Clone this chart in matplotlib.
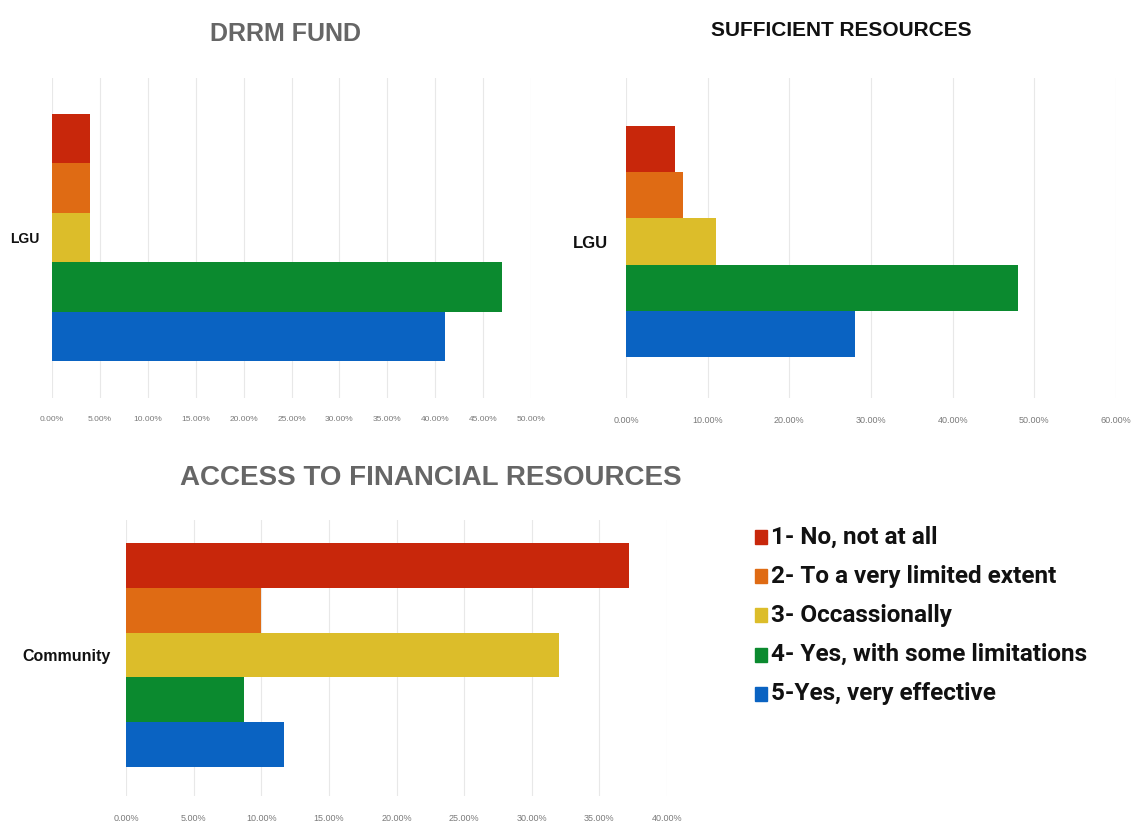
import matplotlib
matplotlib.use("Agg")
import matplotlib.pyplot as plt
from matplotlib.patches import Rectangle
from matplotlib.ticker import FuncFormatter
import numpy as np

# Survey responses (share of respondents, %)
responses = ["1- No, not at all", "2- To a very limited extent", "3- Occassionally",
             "4- Yes, with some limitations", "5-Yes, very effective"]
response_colors = ["#C8270B", "#DF6B14", "#DCBD2A", "#0B8A2F", "#0A63C2"]

drrm_group = ["LGU"]
drrm_fund = [4.0, 4.0, 4.0, 47.0, 41.0]
drrm_ticks = [0, 5, 10, 15, 20, 25, 30, 35, 40, 45, 50]

sufficient_group = ["LGU"]
sufficient_resources = [6.0, 7.0, 11.0, 48.0, 28.0]
sufficient_ticks = [0, 10, 20, 30, 40, 50, 60]

access_group = ["Community"]
access_financial = [37.2, 10.0, 32.0, 8.7, 11.7]
access_ticks = [0, 5, 10, 15, 20, 25, 30, 35, 40]

W, H = 1132, 823
fig = plt.figure(figsize=(W / 100, H / 100), dpi=100)
fig.patch.set_facecolor("white")

SANS = ["Liberation Sans", "DejaVu Sans"]
LEGEND_FONT = ["Roboto", "Liberation Sans", "DejaVu Sans"]


def px_axes(x0, x1, y0, y1):
    """Axes from pixel box (top-left origin)."""
    return fig.add_axes([x0 / W, 1 - y1 / H, (x1 - x0) / W, (y1 - y0) / H])


def grouped_barh(ax, group, values, ticks, bar_top, bar_bot, ax_top, ax_bot,
                 tick_size, label_size, label_pad, tick_pad):
    n = len(values)
    bw = 0.8 / n
    offsets = (np.arange(n) - (n - 1) / 2) * bw
    for i, v in enumerate(values):
        ax.barh(offsets[i], v, height=bw, color=response_colors[i],
                edgecolor="none", zorder=3)
    scale = (bar_bot - bar_top) / 0.8
    ax.set_ylim(0.4 + (ax_bot - bar_bot) / scale, -0.4 - (bar_top - ax_top) / scale)
    ax.set_xlim(ticks[0], ticks[-1])
    ax.set_xticks(ticks)
    ax.xaxis.set_major_formatter(FuncFormatter(lambda v, p: f"{v:.2f}%"))
    ax.set_yticks([0])
    ax.set_yticklabels(group, fontsize=label_size, fontweight="bold",
                       family=SANS, color="#111111")
    for t in ax.get_xticklabels():
        t.set_fontsize(tick_size)
        t.set_color("#7a7a7a")
        t.set_family(SANS)
    ax.tick_params(axis="x", length=0, pad=tick_pad)
    ax.tick_params(axis="y", length=0, pad=label_pad)
    ax.grid(axis="x", color="#e8e8e8", linewidth=0.8, zorder=0)
    for s in ax.spines.values():
        s.set_visible(False)
    ax.set_facecolor("white")


# DRRM FUND
ax1 = px_axes(52, 531, 78, 398)
grouped_barh(ax1, drrm_group, drrm_fund, drrm_ticks, 114, 361, 78, 398,
             tick_size=6, label_size=10, label_pad=9, tick_pad=13)
fig.text(286 / W, 1 - 34 / H, "DRRM FUND", ha="center", va="center",
         fontsize=18, fontweight="bold", color="#666666", family=SANS)

# SUFFICIENT RESOURCES
ax2 = px_axes(626, 1116, 78, 398)
grouped_barh(ax2, sufficient_group, sufficient_resources, sufficient_ticks,
             126, 357, 78, 398,
             tick_size=6.5, label_size=12, label_pad=13, tick_pad=13)
fig.text(841 / W, 1 - 30 / H, "SUFFICIENT RESOURCES", ha="center", va="center",
         fontsize=15, fontweight="bold", color="#111111", family=SANS)

# ACCESS TO FINANCIAL RESOURCES
ax3 = px_axes(126, 667, 520, 796)
grouped_barh(ax3, access_group, access_financial, access_ticks,
             543, 767, 520, 796,
             tick_size=6.5, label_size=11.5, label_pad=11, tick_pad=13)
fig.text(431 / W, 1 - 478 / H, "ACCESS TO FINANCIAL RESOURCES", ha="center",
         va="center", fontsize=20, fontweight="bold", color="#666666", family=SANS)

# Legend for the response scale
leg_x, leg_y0, leg_dy = 755, 537, 39.2
for i, (lab, col) in enumerate(zip(responses, response_colors)):
    yc = leg_y0 + i * leg_dy
    fig.patches.append(Rectangle((leg_x / W, 1 - (yc + 7) / H), 12 / W, 14 / H,
                                 transform=fig.transFigure, color=col))
    fig.text((leg_x + 16) / W, 1 - yc / H, lab, ha="left", va="center",
             fontsize=17.5, fontweight="bold", color="#111111", family=LEGEND_FONT)

fig.savefig("out.png", dpi=100, facecolor="white")
